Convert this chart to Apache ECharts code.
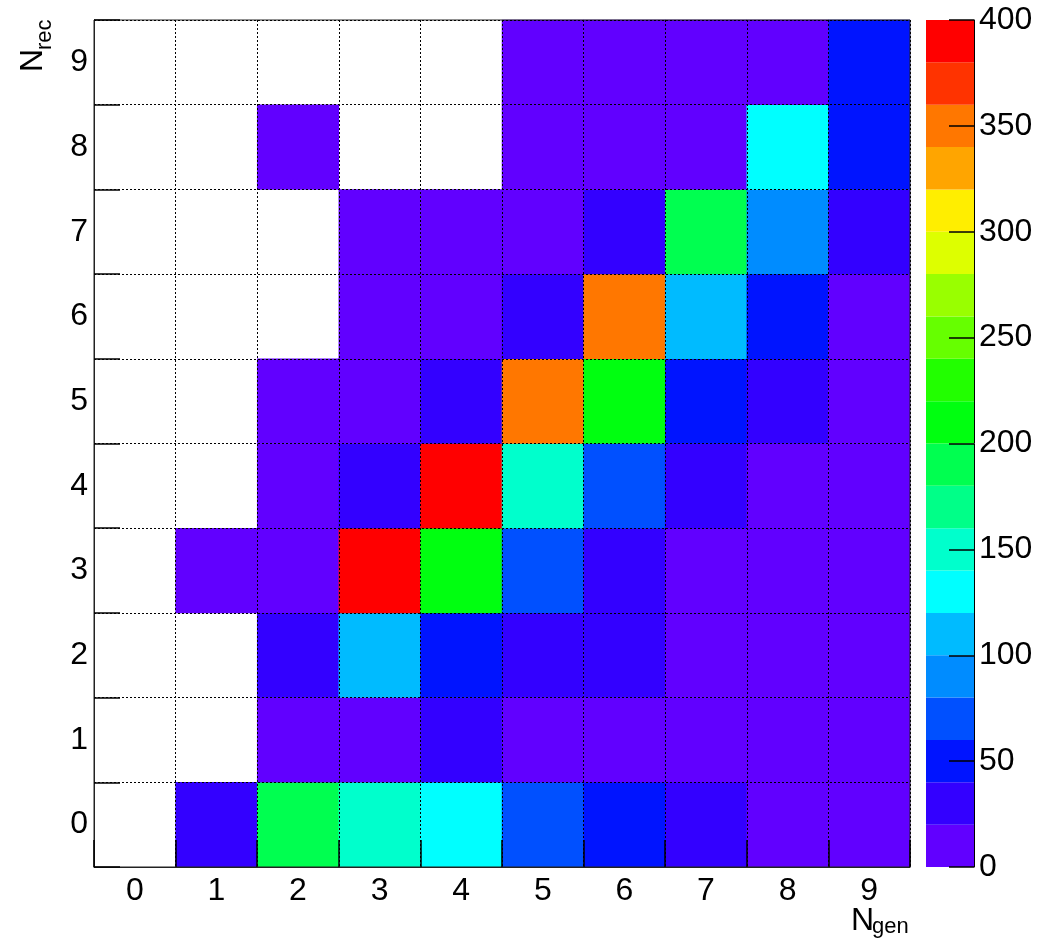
<!DOCTYPE html>
<html>
<head>
<meta charset="utf-8">
<script src="https://cdn.jsdelivr.net/npm/echarts@6/dist/echarts.min.js"></script>
<style>
html,body{margin:0;padding:0;background:#fff;}
#chart{width:1041px;height:944px;}
</style>
</head>
<body>
<div id="chart"></div>
<script>
// Categories (bin labels)
const nGen = ['0','1','2','3','4','5','6','7','8','9'];
const nRec = ['0','1','2','3','4','5','6','7','8','9'];
// Counts, one array per N_rec row (index = N_gen); null = empty bin
const rec0 = [null, 30, 190, 150, 130, 70, 50, 30, 10, 10];
const rec1 = [null, null, 10, 8, 25, 10, 10, 8, 8, 8];
const rec2 = [null, null, 30, 110, 50, 30, 30, 10, 10, 10];
const rec3 = [null, 10, 10, 390, 210, 70, 30, 10, 10, 10];
const rec4 = [null, null, 10, 30, 395, 150, 70, 30, 10, 10];
const rec5 = [null, null, 10, 10, 30, 350, 210, 50, 30, 10];
const rec6 = [null, null, null, 10, 10, 30, 345, 110, 50, 10];
const rec7 = [null, null, null, 10, 10, 10, 30, 190, 90, 30];
const rec8 = [null, null, 10, null, null, 10, 10, 10, 130, 50];
const rec9 = [null, null, null, null, null, 10, 10, 10, 10, 50];
const rows = [rec0, rec1, rec2, rec3, rec4, rec5, rec6, rec7, rec8, rec9];
// Colour palette: 20 bands of 20 counts each from 0 to 400
const bandWidth = 20;
const palette = ['#6100FF','#3300FF','#0014FF','#0050FF','#008CFF','#00BBFF','#00FFFF','#00FFCC','#00FF88','#00FF50',
                 '#00FF10','#22FF00','#66FF00','#99FF00','#DDFF00','#FFEE00','#FFA500','#FF7700','#FF3300','#FF0000'];
const zMin = 0, zMax = 400, zStep = 50;

const heatData = [];
rows.forEach((row, y) => row.forEach((v, x) => { if (v !== null) heatData.push([x, y, v]); }));

const pieces = palette.map((c, i) => ({gte: i * bandWidth, lt: (i + 1) * bandWidth, color: c}));
pieces[pieces.length - 1].lt = Infinity;

const FONT = 'Liberation Sans';
const chart = echarts.init(document.getElementById('chart'), null, {renderer: 'canvas'});

const barSeries = palette.map((c, i) => ({
  type: 'bar', xAxisIndex: 1, yAxisIndex: 1, stack: 'cb', barWidth: '100%',
  data: [bandWidth], itemStyle: {color: c}, silent: true, z: 1
}));

chart.setOption({
  animation: false,
  backgroundColor: '#fff',
  grid: [
    {left: 94, right: 131, top: 20, bottom: 77, show: true, borderColor: '#222', borderWidth: 1, z: 10},
    {left: 926, right: 67, top: 20, bottom: 77}
  ],
  xAxis: [
    {type: 'category', data: nGen, gridIndex: 0, z: 10,
     axisLine: {show: true, lineStyle: {color: '#222', width: 1}},
     axisTick: {show: true, inside: true, length: 27, lineStyle: {color: '#000', width: 1.5}},
     axisLabel: {fontFamily: FONT, fontSize: 32, color: '#000', margin: 8},
     splitLine: {show: true, lineStyle: {color: '#000', width: 1, type: [2, 2]}}},
    {type: 'category', data: ['c'], gridIndex: 1, show: false}
  ],
  yAxis: [
    {type: 'category', data: nRec, gridIndex: 0, z: 10,
     axisLine: {show: true, lineStyle: {color: '#222', width: 1}},
     axisTick: {show: true, inside: true, length: 26, lineStyle: {color: '#000', width: 1.5}},
     axisLabel: {fontFamily: FONT, fontSize: 32, color: '#000', margin: 6},
     splitLine: {show: true, lineStyle: {color: '#000', width: 1, type: [2, 2]}}},
    {type: 'value', gridIndex: 1, position: 'right', min: zMin, max: zMax, interval: zStep, z: 10,
     axisLine: {show: true, lineStyle: {color: '#000', width: 1}},
     axisTick: {show: true, inside: true, length: 25, lineStyle: {color: '#000', width: 1.5}},
     axisLabel: {fontFamily: FONT, fontSize: 32, color: '#000', margin: 5},
     splitLine: {show: false}}
  ],
  visualMap: {type: 'piecewise', show: false, seriesIndex: 0, dimension: 2, pieces: pieces},
  series: [
    {type: 'heatmap', xAxisIndex: 0, yAxisIndex: 0, data: heatData, z: 1, silent: true,
     itemStyle: {borderWidth: 0}}
  ].concat(barSeries),
  graphic: [
    {type: 'text', x: 851, y: 921, style: {text: 'N', font: '32px "Liberation Sans"', fill: '#000', align: 'left', verticalAlign: 'middle'}},
    {type: 'text', x: 872, y: 927, style: {text: 'gen', font: '22px "Liberation Sans"', fill: '#000', align: 'left', verticalAlign: 'middle'}},
    {type: 'text', x: 33, y: 72, rotation: Math.PI / 2, style: {text: 'N', font: '32px "Liberation Sans"', fill: '#000', align: 'left', verticalAlign: 'middle'}},
    {type: 'text', x: 45, y: 50, rotation: Math.PI / 2, style: {text: 'rec', font: '22px "Liberation Sans"', fill: '#000', align: 'left', verticalAlign: 'middle'}}
  ]
});
</script>
</body>
</html>
